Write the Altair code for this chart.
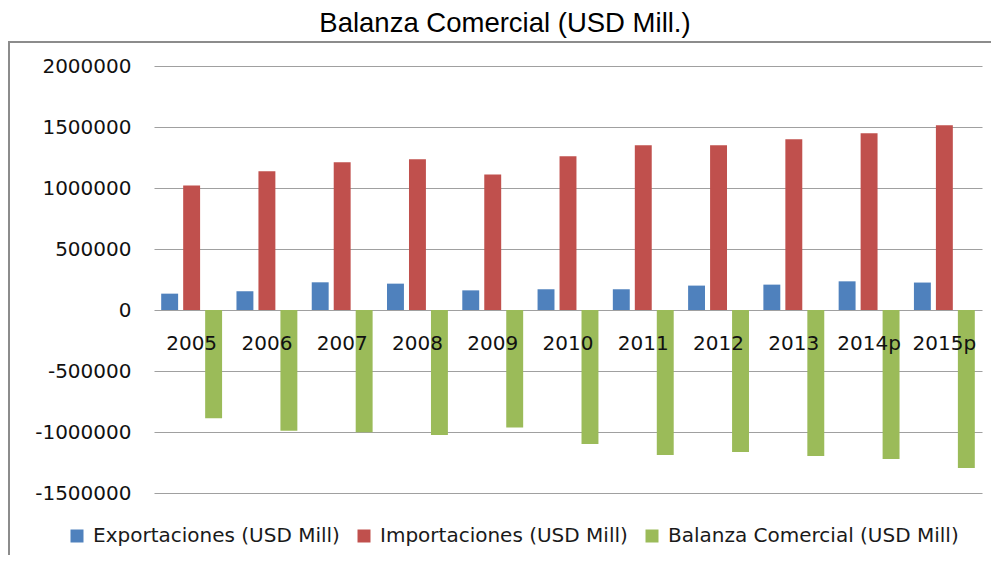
import altair as alt
import pandas as pd

years = ["2005", "2006", "2007", "2008", "2009", "2010", "2011", "2012", "2013", "2014p", "2015p"]
series = ["Exportaciones (USD Mill)", "Importaciones (USD Mill)", "Balanza Comercial (USD Mill)"]
exportaciones = [134000, 153000, 227000, 216000, 161000, 170000, 170000, 200000, 208000, 235000, 225000]
importaciones = [1020000, 1137000, 1211000, 1235000, 1110000, 1260000, 1350000, 1350000, 1399000, 1448000, 1514000]
balanza = [-888000, -989000, -1002000, -1025000, -964000, -1098000, -1188000, -1164000, -1197000, -1221000, -1295000]
colors = ["#4F81BD", "#C0504D", "#9BBB59"]
y_ticks = [-1500000, -1000000, -500000, 0, 500000, 1000000, 1500000, 2000000]

rows = []
for vals, s in zip([exportaciones, importaciones, balanza], series):
    for y, v in zip(years, vals):
        rows.append({"Año": y, "Serie": s, "Valor": v})
df = pd.DataFrame(rows)
one = pd.DataFrame({"k": [0]})

FONT = "DejaVu Sans"
FS = 20
W, H = 828, 427

bars = alt.Chart(df).mark_bar().encode(
    x=alt.X("Año:N", sort=years,
            scale=alt.Scale(paddingInner=0.124, paddingOuter=0.062),
            axis=alt.Axis(title=None, labelAngle=0, domain=False, ticks=False,
                          labelFont=FONT, labelFontSize=FS, labelColor="#111111",
                          labelPadding=23, offset=-183, zindex=1)),
    xOffset=alt.XOffset("Serie:N", sort=series,
                        scale=alt.Scale(paddingInner=0.23, paddingOuter=0.115)),
    y=alt.Y("Valor:Q",
            scale=alt.Scale(domain=[-1500000, 2000000], nice=False),
            axis=alt.Axis(title=None, values=y_ticks, domain=False, ticks=False,
                          labelExpr="datum.value < 0 ? '-' + format(-datum.value, 'd') : format(datum.value, 'd')",
                          labelFont=FONT, labelFontSize=FS, labelColor="#111111",
                          labelPadding=23, gridColor="#a0a0a0", gridWidth=1.2)),
    color=alt.Color("Serie:N", sort=series,
                    scale=alt.Scale(domain=series, range=colors),
                    legend=alt.Legend(title=None, orient="none", direction="horizontal",
                                      legendX=-87, legendY=460,
                                      symbolType="square", symbolSize=169,
                                      symbolStrokeWidth=0, symbolOpacity=1,
                                      labelFont=FONT, labelFontSize=FS, labelColor="#1a1a1a",
                                      labelOffset=6, columnPadding=14, labelLimit=400)),
)

frame_left = alt.Chart(one).mark_rule(color="#8c8c8c", strokeWidth=2).encode(
    x=alt.value(-145), y=alt.value(-24), y2=alt.value(520))
frame_top = alt.Chart(one).mark_rule(color="#8c8c8c", strokeWidth=2).encode(
    x=alt.value(-146), x2=alt.value(860), y=alt.value(-24))

chart = alt.layer(frame_left, frame_top, bars).properties(
    width=W, height=H,
    title=alt.TitleParams("Balanza Comercial (USD Mill.)",
                          font="Liberation Sans Narrow, Arial Narrow, sans-serif",
                          fontSize=27.5, fontWeight="normal", color="black",
                          anchor="middle", dx=-63, offset=4),
    autosize=alt.AutoSizeParams(type="none"),
    padding={"left": 146, "top": 58, "right": 9, "bottom": 62},
).configure_view(stroke=None)

chart.save("out.html", embed_options={"renderer": "svg", "actions": False})
